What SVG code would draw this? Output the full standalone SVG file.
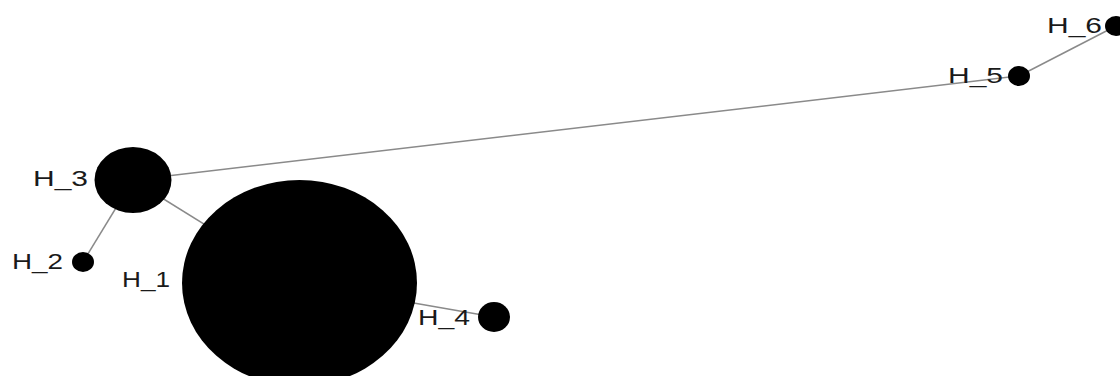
<svg xmlns="http://www.w3.org/2000/svg" width="1120" height="376" viewBox="0 0 1120 376">
<style>
.edge{stroke:#8a8a8a;stroke-width:1.5;fill:none}
.node{fill:#000}
.lbl{font-family:"Liberation Sans",Arial,sans-serif;font-size:22px;fill:#1a1a1a}
</style>
<rect width="1120" height="376" fill="#fff"/>
<g id="connectors">
<line class="edge" x1="133" y1="180" x2="1019" y2="76"/>
<line class="edge" x1="1019" y1="76" x2="1116" y2="26"/>
<line class="edge" x1="133" y1="180" x2="83" y2="262"/>
<line class="edge" x1="133" y1="180" x2="299" y2="283"/>
<line class="edge" x1="299" y1="283" x2="494" y2="317"/>
</g>
<g id="H_1">
<ellipse class="node" cx="299.5" cy="283" rx="117.5" ry="103"/>
<text class="lbl" x="122" y="287" textLength="48" lengthAdjust="spacingAndGlyphs">H_1</text>
</g>
<g id="H_2">
<ellipse class="node" cx="83" cy="262" rx="11" ry="10"/>
<text class="lbl" x="12" y="269" textLength="51" lengthAdjust="spacingAndGlyphs">H_2</text>
</g>
<g id="H_3">
<ellipse class="node" cx="133" cy="180" rx="38.5" ry="33"/>
<text class="lbl" x="33" y="186" textLength="55" lengthAdjust="spacingAndGlyphs">H_3</text>
</g>
<g id="H_4">
<ellipse class="node" cx="494" cy="317" rx="16" ry="15"/>
<text class="lbl" x="418" y="325" textLength="52" lengthAdjust="spacingAndGlyphs">H_4</text>
</g>
<g id="H_5">
<ellipse class="node" cx="1019" cy="76" rx="11" ry="10"/>
<text class="lbl" x="948" y="83" textLength="55" lengthAdjust="spacingAndGlyphs">H_5</text>
</g>
<g id="H_6">
<ellipse class="node" cx="1116" cy="26" rx="11" ry="10"/>
<text class="lbl" x="1047" y="33" textLength="55" lengthAdjust="spacingAndGlyphs">H_6</text>
</g>
</svg>
